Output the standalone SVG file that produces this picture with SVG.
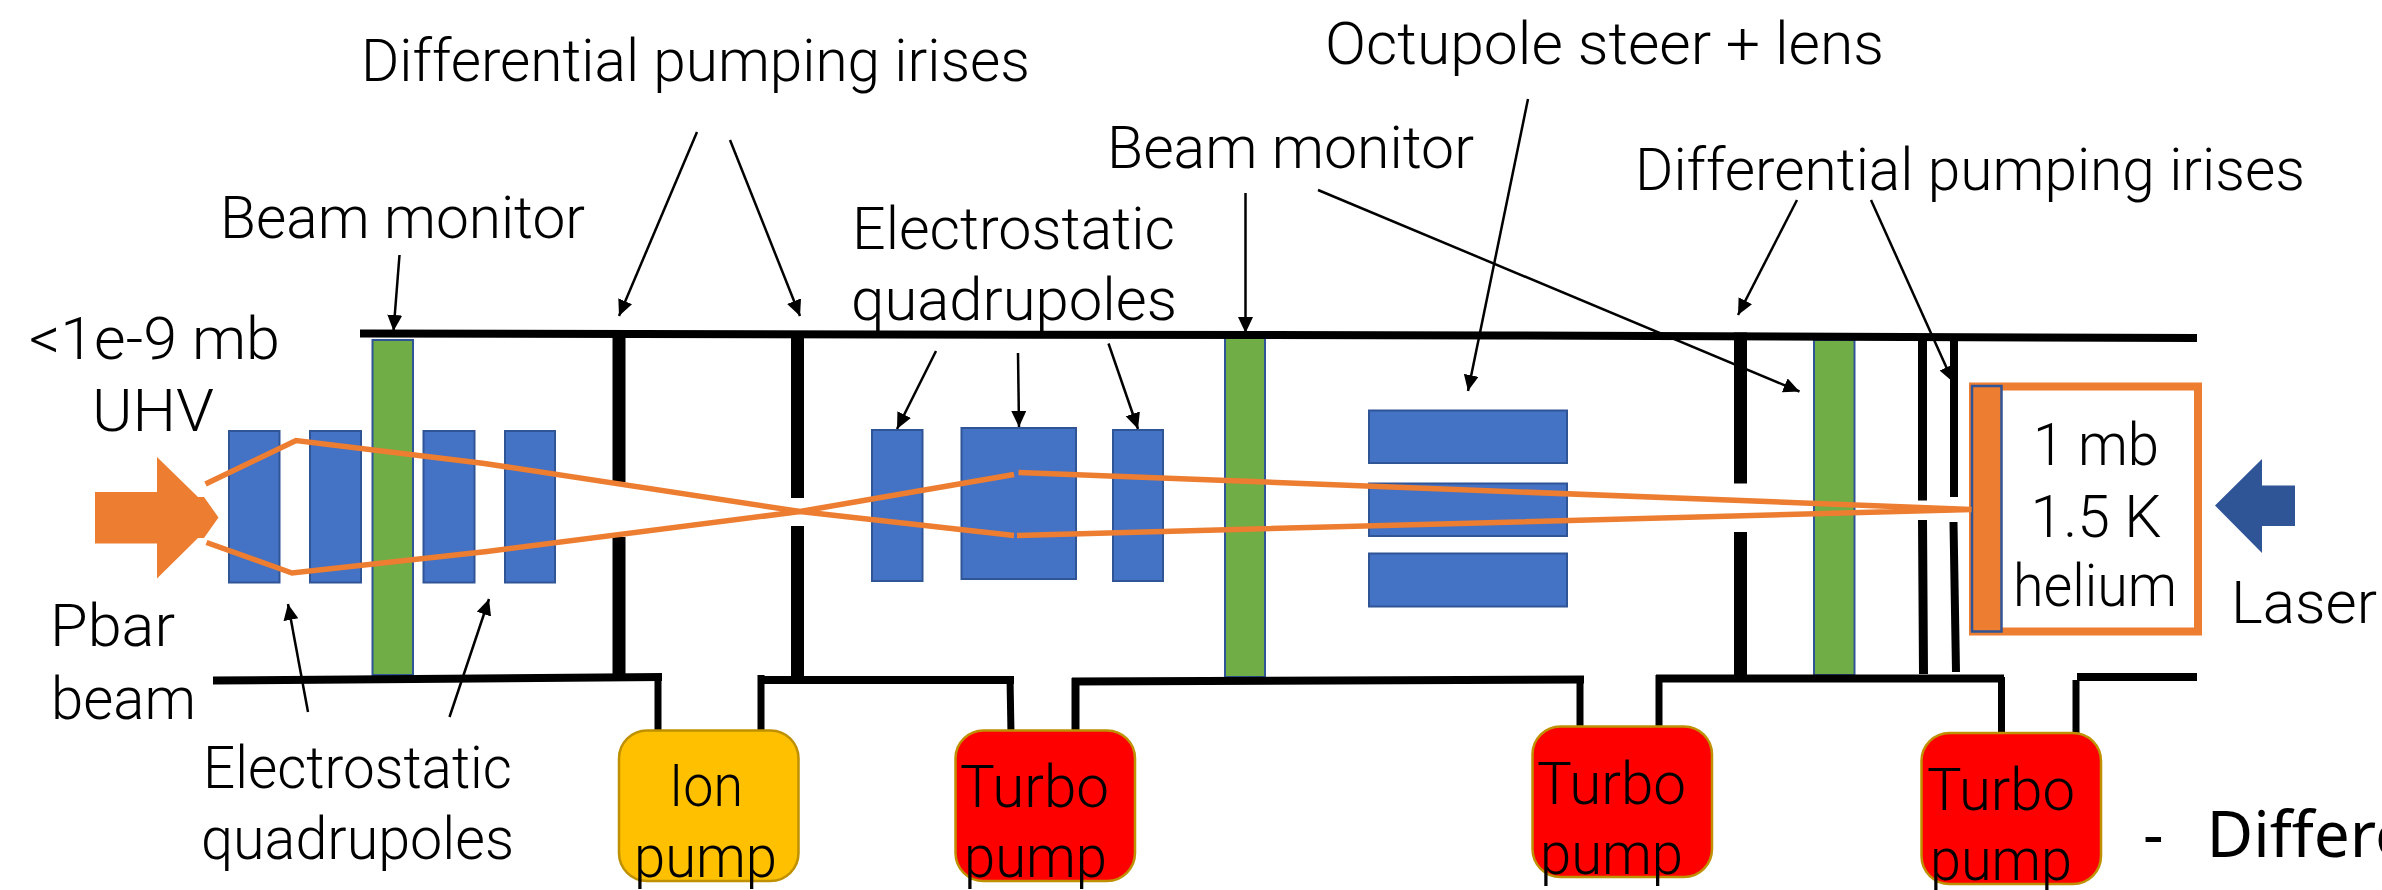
<svg xmlns="http://www.w3.org/2000/svg" width="2382" height="890" viewBox="0 0 2382 890">
<style>
text{font-family:Roboto,"Liberation Sans",sans-serif;font-weight:300;font-size:60px;fill:#000}
.df{font-family:"Noto Sans",sans-serif;font-weight:400;font-size:64px}
.bl{fill:#4472C4;stroke:#2F5597;stroke-width:2}
.gr{fill:#70AD47;stroke:#2F5597;stroke-width:2}
.wall{fill:none;stroke:#000;stroke-linecap:butt}
.w8{stroke-width:8}.w7{stroke-width:7}.w13{stroke-width:13}.w9{stroke-width:9}
.beam{fill:none;stroke:#ED7D31;stroke-width:5.5}
.arr{fill:none;stroke:#000;stroke-width:2.5;marker-end:url(#a)}
.ion{fill:#FFC000;stroke:#BF9000;stroke-width:2.5}
.tur{fill:#FF0000;stroke:#BF9000;stroke-width:2.5}
</style>
<defs><marker id="a" markerUnits="userSpaceOnUse" markerWidth="18" markerHeight="17" refX="16" refY="7.5" orient="auto"><path d="M0 0L16 7.5L0 15Z" fill="#000"/></marker></defs>
<rect width="2382" height="890" fill="#fff"/>
<g id="quadrupoles-left"><rect class="bl" x="229" y="431" width="50.5" height="151.5"/><rect class="bl" x="310" y="431" width="51" height="151.5"/><rect class="bl" x="423.5" y="431" width="51" height="151.5"/><rect class="bl" x="505" y="431" width="50" height="151.5"/></g>
<g id="quadrupoles-mid"><rect class="bl" x="872" y="430" width="50.5" height="151"/><rect class="bl" x="961.5" y="428" width="114.5" height="151"/><rect class="bl" x="1113" y="430" width="50" height="151"/></g>
<g id="octupole"><rect class="bl" x="1369" y="410.5" width="198" height="52.5"/><rect class="bl" x="1369" y="483.5" width="198" height="52.5"/><rect class="bl" x="1369" y="553.5" width="198" height="53"/></g>
<g id="beam-monitor-1"><rect class="gr" x="372.5" y="340" width="40.5" height="335"/></g>
<g id="beam-monitor-2"><rect class="gr" x="1225" y="338" width="40" height="339"/></g>
<g id="beam-monitor-3"><rect class="gr" x="1814" y="340" width="40.5" height="335"/></g>
<g id="chamber">
<path class="wall w8" d="M360 333.5L1500 335.5L2197 338"/>
<path class="wall w8" d="M213 680.5L662 677"/>
<path class="wall w7" d="M658 677V731"/>
<path class="wall w7" d="M761 675V731"/>
<path class="wall w8" d="M758 680H1014"/>
<path class="wall w7" d="M1010 677L1011 734"/>
<path class="wall w8" d="M1072 681.5L1584 679.5"/>
<path class="wall w8" d="M1075.5 678V736"/>
<path class="wall w7" d="M1580 676V731"/>
<path class="wall w7" d="M1659 675V731"/>
<path class="wall w8" d="M1656 678.5H2004"/>
<path class="wall w7" d="M2001.5 677V734"/>
<path class="wall w8" d="M2077 677H2197"/>
<path class="wall w7" d="M2076 680V736"/>
</g>
<g id="irises">
<path class="wall w13" d="M619 333V482M619 537V679"/>
<path class="wall w13" d="M797.5 333V498M797.5 526V680"/>
<path class="wall w13" d="M1740.5 332.5V483.5M1740.5 532V675"/>
<path class="wall w9" d="M1922.5 338V500.5M1922.5 520L1923.5 674"/>
<path class="wall w8" d="M1954 338V497M1953.5 522L1956 672"/>
</g>
<g id="pbar-arrow"><path fill="#ED7D31" d="M95 492H157V457L198 497H204V538H198L157 578.5V543.5H95Z"/><path fill="#ED7D31" d="M204 497L218.5 517.5L204 538Z"/></g>
<g id="target">
<rect x="1973" y="386.5" width="225" height="245" fill="#fff" stroke="#ED7D31" stroke-width="8"/>
<rect x="1972" y="386" width="29.5" height="245.5" fill="#ED7D31" stroke="#2F5597" stroke-width="2.5"/>
<text x="2096" y="465" text-anchor="middle" textLength="126" lengthAdjust="spacingAndGlyphs">1 mb</text>
<text x="2096" y="536.5" text-anchor="middle" textLength="131" lengthAdjust="spacingAndGlyphs">1.5 K</text>
<text x="2095" y="606" text-anchor="middle" textLength="164" lengthAdjust="spacingAndGlyphs">helium</text>
</g>
<g id="beam"><path class="beam" d="M205.5 484L296 440.5L484.5 463.5L800 511.5L1014 535.5"/><path class="beam" d="M206.5 542.5L292 573L487 551.5L800 511.5L1014 474.5"/><path class="beam" d="M1018.5 472.5L1971.5 509.5L1017 535.5"/></g>
<g id="laser-arrow"><path fill="#2F5597" d="M2215 505.5L2262 459V485.5H2295V526H2262V553Z"/></g>
<g id="ion-pump"><rect class="ion" x="619" y="730.5" width="179.5" height="150.5" rx="28"/><text x="669" y="806" textLength="74" lengthAdjust="spacingAndGlyphs">Ion</text><text x="634" y="877" textLength="143" lengthAdjust="spacingAndGlyphs">pump</text></g>
<g id="turbo-pump-1"><rect class="tur" x="955.5" y="730.5" width="179.5" height="150.5" rx="28"/><text x="960" y="807" textLength="149" lengthAdjust="spacingAndGlyphs">Turbo</text><text x="964" y="877" textLength="143" lengthAdjust="spacingAndGlyphs">pump</text></g>
<g id="turbo-pump-2"><rect class="tur" x="1532.5" y="726.5" width="179.5" height="150.5" rx="28"/><text x="1537" y="804" textLength="149" lengthAdjust="spacingAndGlyphs">Turbo</text><text x="1540" y="874" textLength="143" lengthAdjust="spacingAndGlyphs">pump</text></g>
<g id="turbo-pump-3"><rect class="tur" x="1921.5" y="733" width="179.5" height="151" rx="28"/><text x="1927" y="810" textLength="148" lengthAdjust="spacingAndGlyphs">Turbo</text><text x="1930" y="880" textLength="142" lengthAdjust="spacingAndGlyphs">pump</text></g>
<g id="connectors">
<path class="arr" d="M399.5 255L393.5 331"/>
<path class="arr" d="M697 132L619 316"/>
<path class="arr" d="M730 140L800 316"/>
<path class="arr" d="M308 712L288 604"/>
<path class="arr" d="M449.5 717L489 599"/>
<path class="arr" d="M936 351L897 429"/>
<path class="arr" d="M1018 353L1019 427"/>
<path class="arr" d="M1108.5 343.5L1138 429"/>
<path class="arr" d="M1245.5 193V333"/>
<path class="arr" d="M1528 99L1468 391"/>
<path class="arr" d="M1318 190L1799.5 391.5"/>
<path class="arr" d="M1797 200L1738 315"/>
<path class="arr" d="M1871 200L1953 382"/>
</g>
<g id="labels">
<text x="361" y="81" textLength="669" lengthAdjust="spacingAndGlyphs">Differential pumping irises</text>
<text x="1325" y="64" textLength="559" lengthAdjust="spacingAndGlyphs">Octupole steer + lens</text>
<text x="1107" y="168" textLength="367" lengthAdjust="spacingAndGlyphs">Beam monitor</text>
<text x="1635" y="190" textLength="670" lengthAdjust="spacingAndGlyphs">Differential pumping irises</text>
<text x="220" y="238" textLength="365" lengthAdjust="spacingAndGlyphs">Beam monitor</text>
<text x="852" y="249" textLength="323" lengthAdjust="spacingAndGlyphs">Electrostatic</text>
<text x="851" y="320" textLength="326" lengthAdjust="spacingAndGlyphs">quadrupoles</text>
<text x="29" y="359" textLength="251" lengthAdjust="spacingAndGlyphs">&lt;1e-9 mb</text>
<text x="92" y="431" textLength="122" lengthAdjust="spacingAndGlyphs">UHV</text>
<text x="50" y="646" textLength="125" lengthAdjust="spacingAndGlyphs">Pbar</text>
<text x="51" y="718.5" textLength="145" lengthAdjust="spacingAndGlyphs">beam</text>
<text x="203" y="788" textLength="309" lengthAdjust="spacingAndGlyphs">Electrostatic</text>
<text x="201" y="859" textLength="313" lengthAdjust="spacingAndGlyphs">quadrupoles</text>
<text x="2231" y="622.5" textLength="146" lengthAdjust="spacingAndGlyphs">Laser</text>
<text class="df" x="2143" y="857">-</text>
<text class="df" x="2206.5" y="857">Differe</text>
</g>
</svg>
